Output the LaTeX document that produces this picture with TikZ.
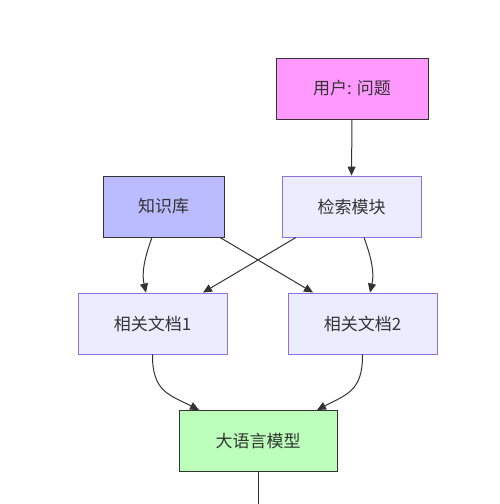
\documentclass[tikz,border=0pt]{standalone}
\usepackage{fontspec}
\setmainfont{Noto Sans CJK SC}
\usetikzlibrary{arrows.meta}
\definecolor{dpink}{HTML}{FF99FF}
\definecolor{dblue}{HTML}{BBBBFF}
\definecolor{dgreen}{HTML}{BBFFBB}
\definecolor{dlav}{HTML}{ECECFF}
\definecolor{dpurp}{HTML}{9370DB}
\definecolor{dline}{HTML}{333333}
\tikzset{
  box/.style={draw=dpurp, fill=dlav, line width=0.9pt, minimum height=61pt, inner sep=0pt, font=\fontsize{17}{20}\selectfont, text=dline},
  darkbox/.style={box, draw=dline},
  conn/.style={draw=dline, line width=1pt, -{Triangle[length=9pt,width=8pt]}},
}
\begin{document}
\begin{tikzpicture}[x=1pt,y=-1pt]
\useasboundingbox (0,0) rectangle (500,504);
\node[darkbox, fill=dpink, minimum width=152pt] (user) at (352,88.5) {用户: 问题};
\node[box, minimum width=139pt] (ret) at (351.5,206.5) {检索模块};
\node[darkbox, fill=dblue, minimum width=121pt] (kb) at (163.5,206.5) {知识库};
\node[box, minimum width=149pt] (d1) at (152.5,323.5) {相关文档1};
\node[box, minimum width=149pt] (d2) at (362.5,323.5) {相关文档2};
\node[darkbox, fill=dgreen, minimum width=158pt] (llm) at (258,441) {大语言模型};
\coordinate (out) at (258,504);
\draw[conn] (user.south) -- (ret.north);
\draw[conn] ([xshift=-11.5pt]kb.south) .. controls (143,262) and (142,275) .. ([xshift=-6.5pt]d1.north);
\draw[conn] ([xshift=56.5pt]kb.south) -- ([xshift=-49.5pt]d2.north);
\draw[conn] ([xshift=-55.5pt]ret.south) -- ([xshift=50.5pt]d1.north);
\draw[conn] ([xshift=12.5pt]ret.south) .. controls (373,262) and (374,275) .. ([xshift=7.5pt]d2.north);
\draw[conn] (d1.south) .. controls (152,392) and (170,395) .. ([xshift=-59pt]llm.north);
\draw[conn] (d2.south) .. controls (363,392) and (345,395) .. ([xshift=59pt]llm.north);
\draw[draw=dline, line width=1pt] (llm.south) -- (out);
\end{tikzpicture}
\end{document}
